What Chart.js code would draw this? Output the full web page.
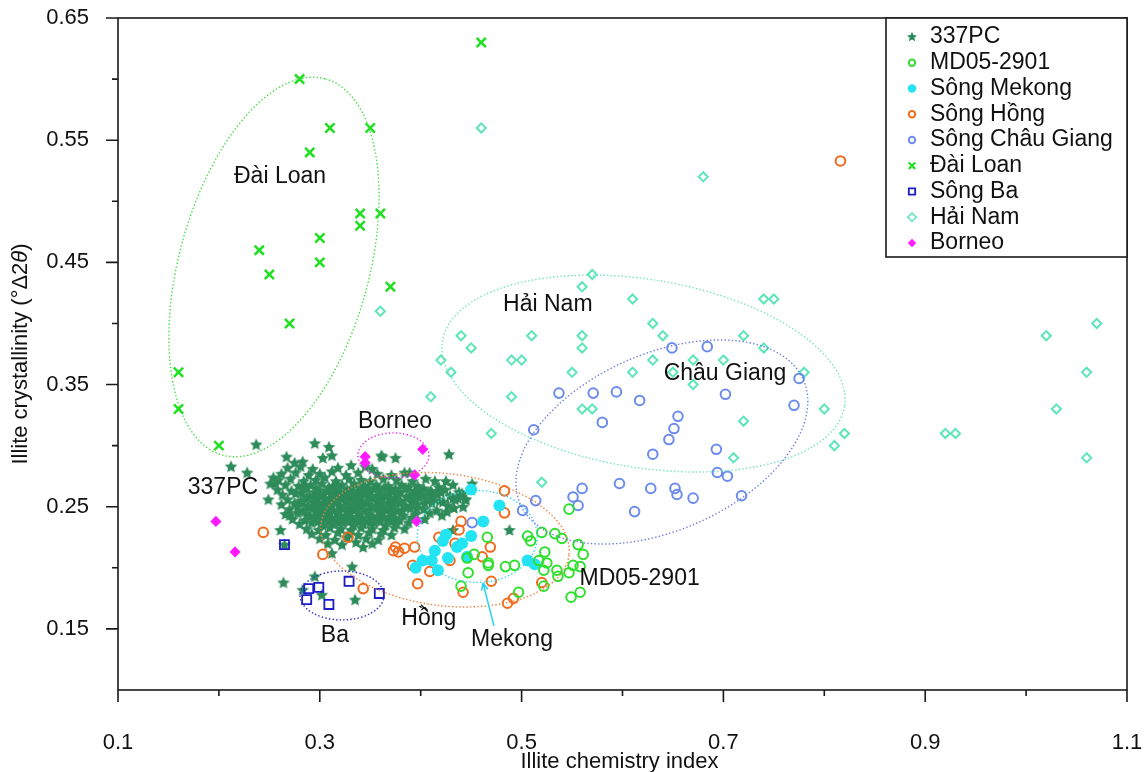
<!DOCTYPE html>
<html>
<head>
<meta charset="utf-8">
<script src="https://cdn.jsdelivr.net/npm/chart.js@4.4.0/dist/chart.umd.min.js"></script>
<style>
  html, body { margin: 0; padding: 0; background: #fff; }
</style>
</head>
<body>
<canvas id="chart" width="1144" height="772"></canvas>
<script>
// ---- axis ticks ----
const xMajorTicks = [0.1, 0.3, 0.5, 0.7, 0.9, 1.1];
const xMinorTicks = [0.2, 0.4, 0.6, 0.8, 1.0];
const yMajorTicks = [0.15, 0.25, 0.35, 0.45, 0.55, 0.65];
const yMinorTicks = [0.2, 0.3, 0.4, 0.5, 0.6];

// ---- series (illite chemistry index, illite crystallinity) ----
const pc337 = [
  // scattered
  [0.237, 0.301], [0.212, 0.283], [0.228, 0.278], [0.264, 0.188], [0.295, 0.193], [0.302, 0.178],
  [0.283, 0.182], [0.332, 0.201], [0.335, 0.174], [0.295, 0.302], [0.309, 0.299], [0.361, 0.292],
  [0.375, 0.290], [0.428, 0.293], [0.249, 0.256], [0.267, 0.291], [0.275, 0.286], [0.283, 0.287],
  [0.312, 0.292], [0.303, 0.290], [0.345, 0.283], [0.389, 0.278], [0.451, 0.269], [0.432, 0.257],
  [0.444, 0.256], [0.422, 0.254], [0.426, 0.246], [0.488, 0.231], [0.432, 0.231], [0.343, 0.217],
  [0.312, 0.212], [0.254, 0.274], [0.256, 0.269], [0.251, 0.269], [0.270, 0.243], [0.261, 0.231],
  [0.414, 0.271], [0.425, 0.271], [0.434, 0.256], [0.445, 0.256], [0.411, 0.261], [0.394, 0.263],
  [0.362, 0.291], [0.265, 0.219], [0.450, 0.264],
  // dense cloud
  [0.268, 0.282], [0.281, 0.283], [0.293, 0.281], [0.318, 0.282], [0.331, 0.284], [0.352, 0.281],
  [0.262, 0.277], [0.276, 0.278], [0.289, 0.276], [0.300, 0.277], [0.312, 0.279], [0.326, 0.276],
  [0.338, 0.278], [0.357, 0.277], [0.371, 0.276], [0.384, 0.278],
  [0.259, 0.272], [0.271, 0.273], [0.284, 0.271], [0.296, 0.272], [0.305, 0.274], [0.316, 0.271],
  [0.329, 0.273], [0.341, 0.272], [0.350, 0.271], [0.363, 0.273], [0.376, 0.272], [0.392, 0.271], [0.405, 0.273],
  [0.266, 0.268], [0.279, 0.267], [0.291, 0.268], [0.302, 0.269], [0.313, 0.267], [0.322, 0.268],
  [0.334, 0.269], [0.345, 0.267], [0.356, 0.268], [0.368, 0.267], [0.381, 0.268], [0.397, 0.267],
  [0.418, 0.266], [0.432, 0.268],
  [0.285, 0.266], [0.296, 0.265], [0.309, 0.266], [0.319, 0.266], [0.331, 0.265], [0.342, 0.266],
  [0.353, 0.265], [0.364, 0.266], [0.375, 0.265], [0.388, 0.266], [0.403, 0.265],
  [0.258, 0.264], [0.272, 0.263], [0.287, 0.265], [0.298, 0.264], [0.307, 0.263], [0.318, 0.265],
  [0.327, 0.264], [0.338, 0.263], [0.349, 0.265], [0.359, 0.264], [0.371, 0.263], [0.385, 0.265],
  [0.399, 0.264], [0.410, 0.263], [0.424, 0.264], [0.438, 0.262],
  [0.282, 0.262], [0.295, 0.262], [0.304, 0.261], [0.315, 0.262], [0.326, 0.262], [0.337, 0.261],
  [0.347, 0.262], [0.358, 0.262], [0.369, 0.261], [0.380, 0.262], [0.394, 0.261], [0.408, 0.262], [0.420, 0.262],
  [0.263, 0.260], [0.276, 0.261], [0.290, 0.259], [0.301, 0.260], [0.311, 0.261], [0.321, 0.259],
  [0.332, 0.260], [0.343, 0.261], [0.352, 0.259], [0.364, 0.260], [0.376, 0.261], [0.389, 0.259],
  [0.402, 0.260], [0.415, 0.261], [0.429, 0.259], [0.441, 0.261],
  [0.287, 0.258], [0.298, 0.258], [0.310, 0.257], [0.319, 0.258], [0.330, 0.258], [0.340, 0.257],
  [0.351, 0.258], [0.362, 0.258], [0.374, 0.257], [0.386, 0.258], [0.399, 0.258], [0.412, 0.257],
  [0.268, 0.256], [0.281, 0.255], [0.294, 0.257], [0.305, 0.256], [0.316, 0.255], [0.325, 0.257],
  [0.336, 0.256], [0.347, 0.255], [0.358, 0.257], [0.369, 0.256], [0.380, 0.255], [0.393, 0.257],
  [0.406, 0.256], [0.419, 0.255], [0.437, 0.257],
  [0.283, 0.254], [0.294, 0.254], [0.304, 0.253], [0.315, 0.254], [0.326, 0.254], [0.336, 0.253],
  [0.346, 0.254], [0.357, 0.254], [0.368, 0.253], [0.379, 0.254], [0.391, 0.254], [0.404, 0.253],
  [0.262, 0.252], [0.275, 0.253], [0.288, 0.251], [0.299, 0.252], [0.309, 0.253], [0.320, 0.251],
  [0.330, 0.252], [0.341, 0.253], [0.351, 0.251], [0.362, 0.252], [0.373, 0.253], [0.385, 0.251],
  [0.397, 0.252], [0.411, 0.253], [0.427, 0.251], [0.442, 0.250],
  [0.278, 0.250], [0.289, 0.250], [0.300, 0.249], [0.310, 0.250], [0.320, 0.250], [0.331, 0.249],
  [0.341, 0.250], [0.352, 0.250], [0.362, 0.249], [0.373, 0.250], [0.384, 0.250], [0.396, 0.249],
  [0.270, 0.248], [0.283, 0.247], [0.294, 0.249], [0.304, 0.248], [0.314, 0.247], [0.324, 0.249],
  [0.335, 0.248], [0.346, 0.247], [0.356, 0.249], [0.367, 0.248], [0.378, 0.247], [0.390, 0.249],
  [0.403, 0.248], [0.416, 0.247], [0.433, 0.249],
  [0.285, 0.246], [0.296, 0.246], [0.307, 0.245], [0.317, 0.246], [0.327, 0.246], [0.338, 0.245],
  [0.348, 0.246], [0.359, 0.246], [0.370, 0.245], [0.381, 0.246],
  [0.266, 0.244], [0.278, 0.245], [0.289, 0.243], [0.300, 0.244], [0.310, 0.245], [0.320, 0.243],
  [0.329, 0.244], [0.339, 0.245], [0.350, 0.243], [0.361, 0.244], [0.372, 0.245], [0.383, 0.243],
  [0.395, 0.244], [0.409, 0.245], [0.421, 0.243],
  [0.290, 0.242], [0.301, 0.242], [0.311, 0.241], [0.321, 0.242], [0.331, 0.242], [0.342, 0.241],
  [0.352, 0.242], [0.363, 0.242], [0.374, 0.241],
  [0.273, 0.240], [0.285, 0.239], [0.296, 0.241], [0.306, 0.240], [0.316, 0.239], [0.326, 0.241],
  [0.336, 0.240], [0.346, 0.239], [0.357, 0.241], [0.368, 0.240], [0.379, 0.239], [0.391, 0.241], [0.404, 0.240],
  [0.298, 0.238], [0.309, 0.238], [0.319, 0.237], [0.329, 0.238], [0.339, 0.238], [0.350, 0.237],
  [0.360, 0.238], [0.371, 0.238],
  [0.280, 0.236], [0.292, 0.237], [0.303, 0.235], [0.313, 0.236], [0.323, 0.237], [0.333, 0.235],
  [0.343, 0.236], [0.354, 0.237], [0.365, 0.235], [0.376, 0.236], [0.388, 0.237],
  [0.287, 0.232], [0.299, 0.231], [0.310, 0.233], [0.321, 0.232], [0.331, 0.231], [0.341, 0.233],
  [0.352, 0.232], [0.363, 0.231], [0.374, 0.233], [0.384, 0.232],
  [0.292, 0.228], [0.306, 0.227], [0.318, 0.229], [0.329, 0.228], [0.338, 0.227], [0.349, 0.229],
  [0.361, 0.228], [0.371, 0.227],
  [0.300, 0.224], [0.315, 0.223], [0.327, 0.225], [0.346, 0.224], [0.358, 0.223],
  [0.308, 0.220], [0.322, 0.219], [0.336, 0.221], [0.352, 0.220]
];

const md05 = [
  [0.547, 0.248], [0.466, 0.225], [0.446, 0.208], [0.453, 0.211], [0.467, 0.204], [0.467, 0.202],
  [0.447, 0.196], [0.440, 0.185], [0.484, 0.201], [0.493, 0.202], [0.506, 0.226], [0.509, 0.222],
  [0.520, 0.229], [0.533, 0.228], [0.540, 0.224], [0.523, 0.213], [0.561, 0.211], [0.556, 0.219],
  [0.517, 0.206], [0.525, 0.204], [0.522, 0.198], [0.535, 0.198], [0.536, 0.193], [0.547, 0.196],
  [0.551, 0.202], [0.558, 0.201], [0.522, 0.185], [0.497, 0.180], [0.549, 0.176], [0.558, 0.180]
];

const mekong = [
  [0.450, 0.264], [0.478, 0.251], [0.462, 0.238], [0.450, 0.226], [0.425, 0.227], [0.422, 0.222],
  [0.441, 0.220], [0.436, 0.217], [0.414, 0.214], [0.402, 0.206], [0.411, 0.206], [0.427, 0.208],
  [0.446, 0.209], [0.395, 0.200], [0.417, 0.198], [0.506, 0.206], [0.513, 0.203]
];

const hong = [
  [0.244, 0.229], [0.303, 0.211], [0.328, 0.225], [0.343, 0.183], [0.373, 0.214], [0.375, 0.217],
  [0.378, 0.213], [0.384, 0.216], [0.394, 0.217], [0.392, 0.202], [0.397, 0.187], [0.409, 0.197],
  [0.418, 0.225], [0.429, 0.206], [0.434, 0.220], [0.438, 0.231], [0.440, 0.238], [0.442, 0.180],
  [0.461, 0.209], [0.469, 0.217], [0.470, 0.189], [0.483, 0.263], [0.483, 0.245], [0.486, 0.171],
  [0.492, 0.175], [0.520, 0.188], [0.816, 0.533]
];

const chauGiang = [
  [0.649, 0.380], [0.684, 0.381], [0.775, 0.355], [0.537, 0.343], [0.571, 0.343], [0.594, 0.344],
  [0.617, 0.337], [0.702, 0.342], [0.770, 0.333], [0.580, 0.319], [0.655, 0.324], [0.651, 0.314],
  [0.646, 0.305], [0.512, 0.313], [0.630, 0.293], [0.693, 0.297], [0.694, 0.278], [0.704, 0.275],
  [0.597, 0.269], [0.628, 0.265], [0.652, 0.265], [0.560, 0.265], [0.718, 0.259], [0.654, 0.260],
  [0.551, 0.258], [0.670, 0.257], [0.514, 0.255], [0.501, 0.247], [0.556, 0.251], [0.451, 0.237],
  [0.612, 0.246]
];

const daiLoan = [
  [0.28, 0.60], [0.31, 0.56], [0.35, 0.56], [0.29, 0.54], [0.34, 0.49], [0.36, 0.49],
  [0.34, 0.48], [0.30, 0.47], [0.24, 0.46], [0.30, 0.45], [0.25, 0.44], [0.37, 0.43],
  [0.27, 0.40], [0.16, 0.36], [0.16, 0.33], [0.20, 0.30], [0.46, 0.63]
];

const songBa = [
  [0.265, 0.219], [0.289, 0.183], [0.299, 0.184], [0.287, 0.174], [0.309, 0.170], [0.329, 0.189],
  [0.359, 0.179]
];

const haiNam = [
  [0.46, 0.56], [0.68, 0.52], [0.57, 0.44], [0.56, 0.43], [0.61, 0.42], [0.74, 0.42], [0.75, 0.42],
  [0.44, 0.39], [0.51, 0.39], [0.56, 0.39], [0.45, 0.38], [0.56, 0.38], [0.63, 0.40], [0.64, 0.39],
  [0.72, 0.39], [0.74, 0.38], [0.42, 0.37], [0.49, 0.37], [0.50, 0.37], [0.63, 0.37], [0.67, 0.37],
  [0.70, 0.37], [0.43, 0.36], [0.55, 0.36], [0.61, 0.36], [0.65, 0.36], [0.78, 0.36], [0.67, 0.35],
  [0.41, 0.34], [0.49, 0.34], [0.56, 0.33], [0.57, 0.33], [0.80, 0.33], [0.72, 0.32], [0.82, 0.31],
  [0.81, 0.30], [0.47, 0.31], [0.71, 0.29], [0.52, 0.27], [0.36, 0.41], [1.07, 0.40], [1.02, 0.39],
  [1.06, 0.36], [1.03, 0.33], [0.92, 0.31], [0.93, 0.31], [1.06, 0.29]
];

const borneo = [
  [0.197, 0.238], [0.216, 0.213], [0.345, 0.291], [0.345, 0.286], [0.402, 0.297], [0.394, 0.276],
  [0.396, 0.238]
];

// ---- annotations: dotted ellipses (centre in data units, radii px, angle deg) and labels ----
const ellipses = [
  { cx: 0.2546, cy: 0.4462, rx: 195, ry: 95, rot: -74.7, color: '#44dd44' },
  { cx: 0.373, cy: 0.292, rx: 35.5, ry: 22.5, rot: 0, color: '#ee33ee' },
  { cx: 0.322, cy: 0.1774, rx: 42, ry: 24.5, rot: 0, color: '#2a2acc' },
  { cx: 0.424, cy: 0.223, rx: 125, ry: 66, rot: 7, color: '#f08038' },
  { cx: 0.456, cy: 0.2257, rx: 60, ry: 46, rot: 0, color: '#30d8ea' },
  { cx: 0.6208, cy: 0.359, rx: 203.6, ry: 94.1, rot: 9.25, color: '#70e2c4' },
  { cx: 0.639, cy: 0.303, rx: 154.6, ry: 88.4, rot: -23.7, color: '#6c7fe0' }
];

const regionLabels = [
  { text: 'Đài Loan', x: 0.2606, y: 0.5199 },
  { text: 'Hải Nam', x: 0.526, y: 0.415 },
  { text: 'Châu Giang', x: 0.7016, y: 0.3587 },
  { text: 'Borneo', x: 0.3745, y: 0.3194 },
  { text: '337PC', x: 0.204, y: 0.2654 },
  { text: 'Ba', x: 0.315, y: 0.1443 },
  { text: 'Hồng', x: 0.408, y: 0.158 },
  { text: 'Mekong', x: 0.4905, y: 0.141 },
  { text: 'MD05-2901', x: 0.617, y: 0.191 }
];

const mekongArrow = { from: [0.4726, 0.1525], to: [0.4617, 0.1877], color: '#22d4f0' };
const hongLeader = { from: [0.4003, 0.1697], to: [0.4072, 0.1640], color: '#222' };

const FONT = "'Liberation Sans', Arial, sans-serif";

const seriesStyle = {
  '337PC': { kind: 'star', color: '#2e8b5a' },
  'MD05-2901': { kind: 'ring', color: '#2ee02e' },
  'Sông Mekong': { kind: 'dot', color: '#22e4f2' },
  'Sông Hồng': { kind: 'ring', color: '#f26b1d' },
  'Sông Châu Giang': { kind: 'ring', color: '#6b8cee' },
  'Đài Loan': { kind: 'cross', color: '#1ee01e' },
  'Sông Ba': { kind: 'square', color: '#1c1cc8' },
  'Hải Nam': { kind: 'diamond', color: '#5ee6b8' },
  'Borneo': { kind: 'diamondFill', color: '#ff1aff' }
};

const starPath = (ctx, cx, cy, r) => {
  ctx.beginPath();
  for (let i = 0; i < 10; i++) {
    const rad = i % 2 ? r * 0.48 : r;
    const a = -Math.PI / 2 + i * Math.PI / 5;
    const px = cx + rad * Math.cos(a);
    const py = cy + rad * Math.sin(a);
    if (i === 0) ctx.moveTo(px, py); else ctx.lineTo(px, py);
  }
  ctx.closePath();
};

const makeStar = (r, color) => {
  const c = document.createElement('canvas');
  const s = Math.ceil(r * 2 + 2);
  c.width = s;
  c.height = s;
  const g = c.getContext('2d');
  starPath(g, s / 2, s / 2 + 0.5, r);
  g.fillStyle = color;
  g.fill();
  return c;
};

const drawMarker = (ctx, kind, x, y, size, color) => {
  ctx.save();
  ctx.strokeStyle = color;
  ctx.fillStyle = color;
  ctx.beginPath();
  switch (kind) {
    case 'star':
      starPath(ctx, x, y, size + 1);
      ctx.fill();
      break;
    case 'ring':
      ctx.lineWidth = 2;
      ctx.arc(x, y, size - 1, 0, Math.PI * 2);
      ctx.stroke();
      break;
    case 'dot':
      ctx.arc(x, y, size, 0, Math.PI * 2);
      ctx.fill();
      break;
    case 'cross':
      ctx.lineWidth = 2.2;
      ctx.moveTo(x - size + 1, y - size + 1); ctx.lineTo(x + size - 1, y + size - 1);
      ctx.moveTo(x + size - 1, y - size + 1); ctx.lineTo(x - size + 1, y + size - 1);
      ctx.stroke();
      break;
    case 'square':
      ctx.lineWidth = 1.8;
      ctx.rect(x - size + 1, y - size + 1, 2 * size - 2, 2 * size - 2);
      ctx.stroke();
      break;
    case 'diamond':
      ctx.lineWidth = 1.6;
      ctx.moveTo(x, y - size); ctx.lineTo(x + size, y); ctx.lineTo(x, y + size); ctx.lineTo(x - size, y);
      ctx.closePath();
      ctx.stroke();
      break;
    case 'diamondFill':
      ctx.moveTo(x, y - size); ctx.lineTo(x + size, y); ctx.lineTo(x, y + size); ctx.lineTo(x - size, y);
      ctx.closePath();
      ctx.fill();
      break;
  }
  ctx.restore();
};

const toXY = (arr) => arr.map(([x, y]) => ({ x, y }));

const starImg = makeStar(6.6, seriesStyle['337PC'].color);

const datasets = [
  { label: '337PC', data: toXY(pc337), pointStyle: starImg, pointRadius: 6, order: 1 },
  { label: 'MD05-2901', data: toXY(md05), pointStyle: 'circle', pointRadius: 4.8, borderWidth: 2,
    borderColor: seriesStyle['MD05-2901'].color, backgroundColor: 'rgba(0,0,0,0)' },
  { label: 'Sông Mekong', data: toXY(mekong), pointStyle: 'circle', pointRadius: 6, borderWidth: 0,
    backgroundColor: seriesStyle['Sông Mekong'].color },
  { label: 'Sông Hồng', data: toXY(hong), pointStyle: 'circle', pointRadius: 4.8, borderWidth: 2,
    borderColor: seriesStyle['Sông Hồng'].color, backgroundColor: 'rgba(0,0,0,0)' },
  { label: 'Sông Châu Giang', data: toXY(chauGiang), pointStyle: 'circle', pointRadius: 4.8, borderWidth: 2,
    borderColor: seriesStyle['Sông Châu Giang'].color, backgroundColor: 'rgba(0,0,0,0)' },
  { label: 'Đài Loan', data: toXY(daiLoan), pointStyle: 'crossRot', pointRadius: 6.5, borderWidth: 2.5,
    borderColor: seriesStyle['Đài Loan'].color },
  { label: 'Sông Ba', data: toXY(songBa), pointStyle: 'rect', pointRadius: 6.4, borderWidth: 1.8,
    borderColor: seriesStyle['Sông Ba'].color, backgroundColor: 'rgba(0,0,0,0)' },
  { label: 'Hải Nam', data: toXY(haiNam), pointStyle: 'rectRot', pointRadius: 4.6, borderWidth: 2,
    borderColor: seriesStyle['Hải Nam'].color, backgroundColor: 'rgba(0,0,0,0)' },
  { label: 'Borneo', data: toXY(borneo), pointStyle: 'rectRot', pointRadius: 5.6, borderWidth: 0,
    backgroundColor: seriesStyle['Borneo'].color }
];

// ellipses, region labels and arrows over the points
const annotationsPlugin = {
  id: 'annotations',
  afterDatasetsDraw(chart) {
    const { ctx, scales: { x, y }, chartArea } = chart;
    ctx.save();
    ctx.beginPath();
    ctx.rect(chartArea.left, chartArea.top, chartArea.width, chartArea.height);
    ctx.clip();

    ellipses.forEach((e) => {
      ctx.beginPath();
      ctx.setLineDash([1.4, 2.2]);
      ctx.lineWidth = 1.4;
      ctx.strokeStyle = e.color;
      ctx.ellipse(x.getPixelForValue(e.cx), y.getPixelForValue(e.cy), e.rx, e.ry, e.rot * Math.PI / 180, 0, Math.PI * 2);
      ctx.stroke();
    });
    ctx.setLineDash([]);

    const line = (seg, head) => {
      const x1 = x.getPixelForValue(seg.from[0]), y1 = y.getPixelForValue(seg.from[1]);
      const x2 = x.getPixelForValue(seg.to[0]), y2 = y.getPixelForValue(seg.to[1]);
      ctx.strokeStyle = seg.color;
      ctx.lineWidth = 1.5;
      ctx.beginPath();
      ctx.moveTo(x1, y1);
      ctx.lineTo(x2, y2);
      if (head) {
        const a = Math.atan2(y2 - y1, x2 - x1);
        ctx.moveTo(x2, y2);
        ctx.lineTo(x2 - 8 * Math.cos(a - 0.4), y2 - 8 * Math.sin(a - 0.4));
        ctx.moveTo(x2, y2);
        ctx.lineTo(x2 - 8 * Math.cos(a + 0.4), y2 - 8 * Math.sin(a + 0.4));
      }
      ctx.stroke();
    };
    line(mekongArrow, true);
    line(hongLeader, false);

    ctx.fillStyle = '#111';
    ctx.font = `23px ${FONT}`;
    ctx.textAlign = 'center';
    ctx.textBaseline = 'middle';
    regionLabels.forEach((l) => {
      ctx.fillText(l.text, x.getPixelForValue(l.x), y.getPixelForValue(l.y));
    });
    ctx.restore();
  }
};

// frame, tick marks, axis titles and boxed legend
const framePlugin = {
  id: 'frame',
  afterDraw(chart) {
    const { ctx, scales: { x, y }, chartArea: area } = chart;
    ctx.save();
    ctx.strokeStyle = '#1a1a1a';
    ctx.lineWidth = 1.6;
    ctx.strokeRect(area.left, area.top, area.width, area.height);

    ctx.beginPath();
    xMajorTicks.forEach((v) => { const p = x.getPixelForValue(v); ctx.moveTo(p, area.bottom); ctx.lineTo(p, area.bottom + 12); });
    xMinorTicks.forEach((v) => { const p = x.getPixelForValue(v); ctx.moveTo(p, area.bottom); ctx.lineTo(p, area.bottom + 6); });
    yMajorTicks.forEach((v) => { const p = y.getPixelForValue(v); ctx.moveTo(area.left - 12, p); ctx.lineTo(area.left, p); });
    yMinorTicks.forEach((v) => { const p = y.getPixelForValue(v); ctx.moveTo(area.left - 6, p); ctx.lineTo(area.left, p); });
    ctx.stroke();

    // x title
    ctx.fillStyle = '#111';
    ctx.font = `22px ${FONT}`;
    ctx.textAlign = 'center';
    ctx.textBaseline = 'middle';
    ctx.fillText('Illite chemistry index', (area.left + area.right) / 2 - 3, 762);

    // y title with italic theta
    const parts = [
      { t: 'Illite crystallinity (°Δ2', f: `22px ${FONT}` },
      { t: 'θ', f: `italic 22px ${FONT}` },
      { t: ')', f: `22px ${FONT}` }
    ];
    let total = 0;
    parts.forEach((p) => { ctx.font = p.f; p.w = ctx.measureText(p.t).width; total += p.w; });
    ctx.translate(21, (area.top + area.bottom) / 2);
    ctx.rotate(-Math.PI / 2);
    ctx.textAlign = 'left';
    let cx = -total / 2;
    parts.forEach((p) => { ctx.font = p.f; ctx.fillText(p.t, cx, 0); cx += p.w; });
    ctx.setTransform(1, 0, 0, 1, 0, 0);

    // legend
    const boxW = 241, boxH = 239;
    const bx = area.right - boxW, by = area.top;
    ctx.fillStyle = '#fff';
    ctx.fillRect(bx, by, boxW, boxH);
    ctx.strokeStyle = '#1a1a1a';
    ctx.lineWidth = 1.6;
    ctx.strokeRect(bx, by, boxW, boxH);
    ctx.font = `23px ${FONT}`;
    ctx.textAlign = 'left';
    ctx.textBaseline = 'middle';
    chart.data.datasets.forEach((ds, i) => {
      const st = seriesStyle[ds.label];
      const ry = by + 19 + i * 25.75;
      drawMarker(ctx, st.kind, bx + 26, ry, 4.2, st.color);
      ctx.fillStyle = '#111';
      ctx.fillText(ds.label, bx + 44, ry);
    });
    ctx.restore();
  }
};

Chart.defaults.font.family = FONT;
Chart.defaults.color = '#111';

new Chart('chart', {
  type: 'scatter',
  data: { datasets },
  options: {
    responsive: false,
    animation: false,
    events: [],
    layout: { padding: { top: 18, right: 17, left: 0, bottom: 0 } },
    plugins: { legend: { display: false }, tooltip: { enabled: false } },
    scales: {
      x: {
        type: 'linear',
        min: 0.1,
        max: 1.1,
        afterBuildTicks: (scale) => { scale.ticks = xMajorTicks.map((v) => ({ value: v })); },
        afterFit: (scale) => { scale.height = 82; scale.paddingLeft = 0; scale.paddingRight = 0; },
        grid: { display: false, drawTicks: false },
        border: { display: false },
        ticks: {
          padding: 40,
          maxRotation: 0,
          font: { size: 22 },
          color: '#111',
          callback: (v) => Number(v).toFixed(1)
        }
      },
      y: {
        type: 'linear',
        min: 0.1,
        max: 0.65,
        afterBuildTicks: (scale) => { scale.ticks = yMajorTicks.map((v) => ({ value: v })); },
        afterFit: (scale) => { scale.width = 118; scale.paddingTop = 0; scale.paddingBottom = 0; },
        grid: { display: false, drawTicks: false },
        border: { display: false },
        ticks: {
          padding: 29,
          font: { size: 22 },
          color: '#111',
          callback: (v) => Number(v).toFixed(2)
        }
      }
    }
  },
  plugins: [annotationsPlugin, framePlugin]
});
</script>
</body>
</html>
